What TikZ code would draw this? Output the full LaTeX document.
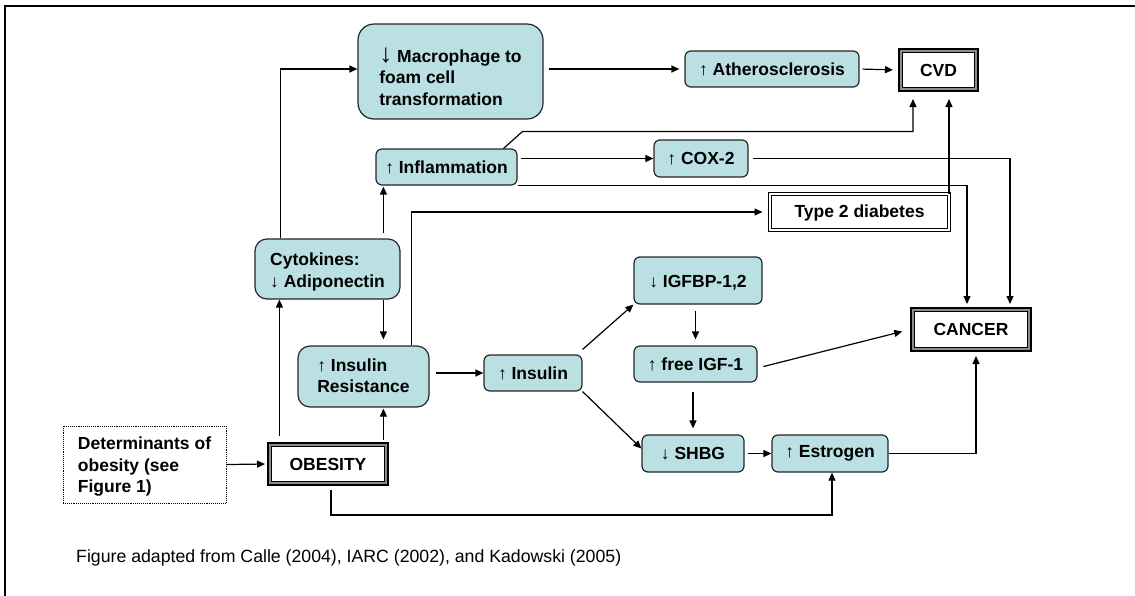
\documentclass[tikz,border=0pt]{standalone}
\usepackage{fontspec}
\setmainfont{Liberation Sans}
\usetikzlibrary{arrows.meta,calc}
\definecolor{boxfill}{RGB}{186,224,228}
\newcommand\myup{{\mdseries ↑}}
\newcommand\mydown{{\mdseries ↓}}
\newcommand\lowered[2]{\raisebox{-#1}[\height][\depth]{\begin{tabular}{@{}l@{}}#2\end{tabular}}}
\begin{document}
\begin{tikzpicture}[x=1pt,y=-1pt,
  font=\fontsize{17.5}{21.5}\selectfont\bfseries,
  rbox/.style={draw=black!85, line width=1.2pt, fill=boxfill, rounded corners=6pt, inner sep=0pt},
  thickbox/.style={draw=black, line width=4pt, inner sep=0pt, fill=white},
  dblbox/.style={draw=black, double=white, double distance=2.2pt, line width=0.8pt, inner sep=0pt},
  dotbox/.style={draw=black, densely dotted, line width=0.9pt, inner sep=0pt},
  arr/.style={line width=1.2pt, -{Triangle[length=8pt,width=7pt]}},
  ln/.style={line width=1.2pt}]
\useasboundingbox (0,0) rectangle (1135,595);
\fill[white] (0,0) rectangle (1135,595);
% frame
\draw[line width=2pt] (5,600) -- (5,5.5) -- (1140,5.5);

% rounded boxes
\node[rbox, rounded corners=16pt, minimum width=185pt, minimum height=95pt] (mac) at (450.5,71.5)
  {\lowered{8pt}{{\fontsize{26}{22}\selectfont\mydown}\ Macrophage to\\foam cell\\transformation}};
\node[rbox, minimum width=174pt, minimum height=36pt] (ath) at (772,69) {\myup\ Atherosclerosis};
\node[rbox, minimum width=141pt, minimum height=36pt] (infl) at (446.5,167) {\myup\ Inflammation};
\node[rbox, minimum width=94pt, minimum height=37pt] (cox) at (701,158.5) {\myup\ COX-2};
\node[rbox, rounded corners=12pt, minimum width=145pt, minimum height=60pt] (cyt) at (327.5,269)
  {\lowered{3pt}{Cytokines:\\\mydown\ Adiponectin}};
\node[rbox, rounded corners=12pt, minimum width=131pt, minimum height=61pt] (ir) at (363.5,376.5)
  {\lowered{1pt}{\myup\ Insulin\\Resistance}};
\node[rbox, minimum width=98pt, minimum height=36pt] (ins) at (533,373) {\myup\ Insulin};
\node[rbox, minimum width=128pt, minimum height=47pt] (igfbp) at (698,280.5) {\lowered{3pt}{\mydown\ IGFBP-1,2}};
\node[rbox, minimum width=123pt, minimum height=36pt] (fig) at (695.5,364) {\myup\ free IGF-1};
\node[rbox, minimum width=102pt, minimum height=37pt] (shbg) at (693,453.5) {\mydown\ SHBG};
\node[rbox, minimum width=116pt, minimum height=37pt] (est) at (830,453.5) {\myup\ Estrogen};

% outcome boxes
\node[thickbox, minimum width=77pt, minimum height=40pt] (cvd) at (938.5,70) {CVD};
\node[thickbox, minimum width=118pt, minimum height=40pt] (obes) at (328,464) {OBESITY};
\node[thickbox, minimum width=118pt, minimum height=41pt] (cancer) at (971,329.5) {CANCER};
\foreach \n in {cvd,obes,cancer}{
  \draw[black!45, line width=1.3pt] ([shift={(2.9pt,2.9pt)}]\n.south west) rectangle ([shift={(-2.9pt,-2.9pt)}]\n.north east);
  \draw[black, line width=0.8pt] ([shift={(4.2pt,4.2pt)}]\n.south west) rectangle ([shift={(-4.2pt,-4.2pt)}]\n.north east);
}
\node[dblbox, minimum width=179.2pt, minimum height=36.2pt] (t2) at (859.5,212) {\lowered{1.5pt}{Type 2 diabetes}};
\node[dotbox, minimum width=163pt, minimum height=77pt] (det) at (144.5,464.5)
  {\lowered{2.5pt}{Determinants of\\obesity (see\\Figure 1)}};

% caption
\node[anchor=west, inner sep=0pt, font=\fontsize{17.7}{21}\selectfont\mdseries] (cap) at (76,558)
  {Figure adapted from Calle (2004), IARC (2002), and Kadowski (2005)};

% helper coordinates
\coordinate (cytTop) at ([xshift=26pt]cyt.north west);
\coordinate (inflB) at ([xshift=8pt]infl.south west);
\coordinate (irTop) at ([xshift=86pt]ir.north west);
\coordinate (irBot) at ([xshift=86pt]ir.south west);
\coordinate (cytBot) at ([xshift=25pt]cyt.south west);
\coordinate (irT2) at ([xshift=114pt]ir.north west);
\coordinate (cvdA) at ([xshift=-25.5pt]cvd.south);
\coordinate (cvdB) at ([xshift=10.5pt]cvd.south);
\coordinate (canA) at ([xshift=-4pt]cancer.north);
\coordinate (canB) at ([xshift=39pt]cancer.north);
\coordinate (canC) at ([xshift=5pt]cancer.south);

% connectors
\draw[arr] (cytTop) |- ([yshift=2.5pt]mac.west);
\draw[arr, shorten <=5pt, shorten >=1pt] (cyt.north -| inflB) -- (inflB);
\draw[arr, shorten >=6pt] (cyt.south -| irTop) -- (irTop);
\draw[arr, shorten <=2pt, shorten >=1pt] (obes.north -| irBot) -- (irBot);
\draw[arr, shorten <=6pt] (obes.north -| cytBot) -- (cytBot);
\draw[arr, shorten >=7pt] (irT2) |- (t2.west);
\draw[arr, shorten <=6pt] (ir.east |- ins.west) -- (ins.west);
\draw[arr] ([yshift=5pt]ins.north east) -- (igfbp.south west);
\draw[arr] (ins.south east) -- ([yshift=5pt]shbg.west);
\draw[arr, shorten <=6pt, shorten >=6pt] (igfbp.south -| fig.north) -- (fig.north);
\draw[arr, shorten <=9pt, shorten >=6pt] (shbg.north |- fig.south) -- (shbg.north);
\draw[arr, shorten <=3pt] (shbg.east) -- (est.west);
\draw[arr, shorten <=4pt] ([xshift=3pt]obes.south) -- ++(0,29) -| ([xshift=2pt]est.south);
\draw[arr, shorten >=4pt] (est.east) -| (canC);
\draw[arr, shorten <=6pt, shorten >=8pt] ([yshift=-4pt]fig.east) -- (cancer.west);
\draw[arr, shorten >=7pt] ([xshift=-14pt]infl.north east) -- ++(19,-17) -| (cvdA);
\draw[arr, shorten >=7pt] (cvdB |- t2.north) -- (cvdB);
\draw[arr, shorten <=3pt] (infl.east |- cox.west) -- (cox.west);
\draw[arr, shorten <=4pt, shorten >=3pt] (cox.east) -| (canB);
\draw[arr, shorten >=3pt] (infl.south east) -| (canA);
\draw[arr, shorten <=3pt, shorten >=5pt] (ath.east) -- (cvd.west);
\draw[arr, shorten <=5pt, shorten >=5pt] (mac.east |- ath.west) -- (ath.west);
\draw[arr, shorten >=2pt] (det.east) -- (obes.west);
\end{tikzpicture}
\end{document}
